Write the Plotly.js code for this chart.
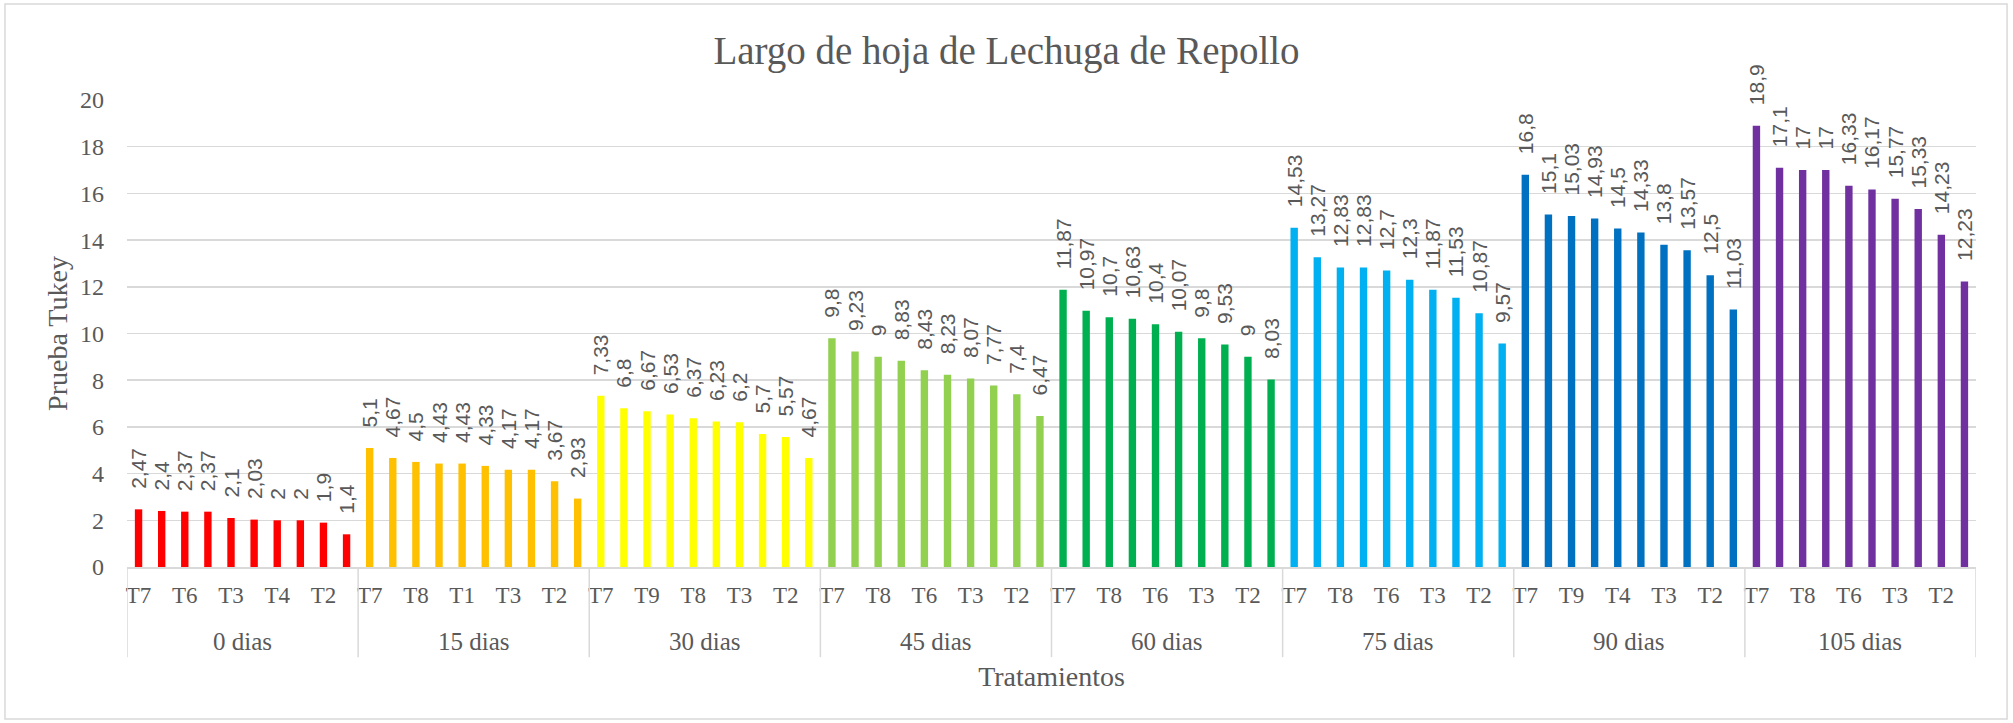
<!DOCTYPE html>
<html><head><meta charset="utf-8">
<script src="https://cdn.plot.ly/plotly-3.0.1.min.js"></script>
<style>html,body{margin:0;padding:0;background:#fff}#chart{width:2013px;height:723px}</style>
</head><body><div id="chart"></div>
<script>
// ---- data ----
const groups = ["0 dias","15 dias","30 dias","45 dias","60 dias","75 dias","90 dias","105 dias"];
const colors = ["#FF0000","#FFC000","#FFFF00","#92D050","#00B050","#00B0F0","#0070C0","#7030A0"];

const values0   = [2.47, 2.4, 2.37, 2.37, 2.1, 2.03, 2, 2, 1.9, 1.4];
const values15  = [5.1, 4.67, 4.5, 4.43, 4.43, 4.33, 4.17, 4.17, 3.67, 2.93];
const values30  = [7.33, 6.8, 6.67, 6.53, 6.37, 6.23, 6.2, 5.7, 5.57, 4.67];
const values45  = [9.8, 9.23, 9, 8.83, 8.43, 8.23, 8.07, 7.77, 7.4, 6.47];
const values60  = [11.87, 10.97, 10.7, 10.63, 10.4, 10.07, 9.8, 9.53, 9, 8.03];
const values75  = [14.53, 13.27, 12.83, 12.83, 12.7, 12.3, 11.87, 11.53, 10.87, 9.57];
const values90  = [16.8, 15.1, 15.03, 14.93, 14.5, 14.33, 13.8, 13.57, 12.5, 11.03];
const values105 = [18.9, 17.1, 17, 17, 16.33, 16.17, 15.77, 15.33, 14.23, 12.23];

// visible treatment tick labels (every second bar of each group)
const ticks0   = ["T7","T6","T3","T4","T2"];
const ticks15  = ["T7","T8","T1","T3","T2"];
const ticks30  = ["T7","T9","T8","T3","T2"];
const ticks45  = ["T7","T8","T6","T3","T2"];
const ticks60  = ["T7","T8","T6","T3","T2"];
const ticks75  = ["T7","T8","T6","T3","T2"];
const ticks90  = ["T7","T9","T4","T3","T2"];
const ticks105 = ["T7","T8","T6","T3","T2"];

const allValues = [values0, values15, values30, values45, values60, values75, values90, values105];
const allTicks  = [ticks0, ticks15, ticks30, ticks45, ticks60, ticks75, ticks90, ticks105];

// ---- build ----
const grey = "#595959";
const serif = "Liberation Serif, serif";
const perGroup = values0.length;
const nTotal = groups.length * perGroup;
const gapPad = "\u00A0\u00A0\u00A0";

const traces = allValues.map((vals, g) => ({
  type: "bar",
  x: vals.map((v, i) => g * perGroup + i),
  y: vals,
  width: 0.32,
  marker: {color: colors[g]},
  text: vals.map(v => gapPad + String(v).replace(".", ",")),
  textposition: "outside",
  textangle: -90,
  constraintext: "none",
  cliponaxis: false,
  textfont: {family: "Liberation Sans, sans-serif", size: 21, color: grey},
  hoverinfo: "x+y",
  showlegend: false
}));

const tickvals = [], ticktext = [];
allTicks.forEach((arr, g) => arr.forEach((t, k) => { tickvals.push(g * perGroup + 2 * k); ticktext.push(t); }));

const shapes = [];
for (let g = 0; g <= groups.length; g++) {
  shapes.push({type: "line", xref: "x", yref: "paper", x0: g * perGroup - 0.5, x1: g * perGroup - 0.5,
    y0: 0, y1: -0.193, line: {color: "#D9D9D9", width: 1.5}});
}
shapes.push({type: "rect", xref: "paper", yref: "paper", x0: -0.066, x1: 1.0168, y0: -0.3255, y1: 1.2056,
  line: {color: "#D9D9D9", width: 1.5}, layer: "below"});

const annotations = groups.map((name, g) => ({
  xref: "x", yref: "paper", x: g * perGroup + (perGroup - 1) / 2, y: -0.16, yanchor: "middle",
  text: name, showarrow: false, font: {family: serif, size: 25, color: grey}
}));

const layout = {
  width: 2013, height: 723,
  margin: {l: 127, r: 37, t: 100, b: 156},
  paper_bgcolor: "#fff", plot_bgcolor: "#fff",
  barmode: "overlay",
  title: {text: "Largo de hoja de Lechuga de Repollo", x: 0.5, xanchor: "center", y: 0.93, yanchor: "middle",
          font: {family: serif, size: 39, color: grey}},
  xaxis: {
    range: [-0.5, nTotal - 0.5], tickmode: "array", tickvals: tickvals, ticktext: ticktext,
    showgrid: false, zeroline: false, showline: true, linecolor: "#D9D9D9", linewidth: 1.5,
    ticks: "", ticklabelstandoff: 7,
    tickfont: {family: serif, size: 23, color: grey},
    title: {text: "Tratamientos", standoff: 59, font: {family: serif, size: 28, color: grey}}
  },
  yaxis: {
    range: [0, 20], dtick: 2, showgrid: true, gridcolor: "#D9D9D9", gridwidth: 1.5,
    zeroline: false, showline: false, ticks: "", ticklabelstandoff: 22,
    tickfont: {family: serif, size: 24, color: grey},
    title: {text: "Prueba Tukey", standoff: 4, font: {family: serif, size: 28, color: grey}}
  },
  shapes: shapes,
  annotations: annotations
};

Plotly.newPlot("chart", traces, layout, {displayModeBar: false, staticPlot: true});
</script>
</body></html>
